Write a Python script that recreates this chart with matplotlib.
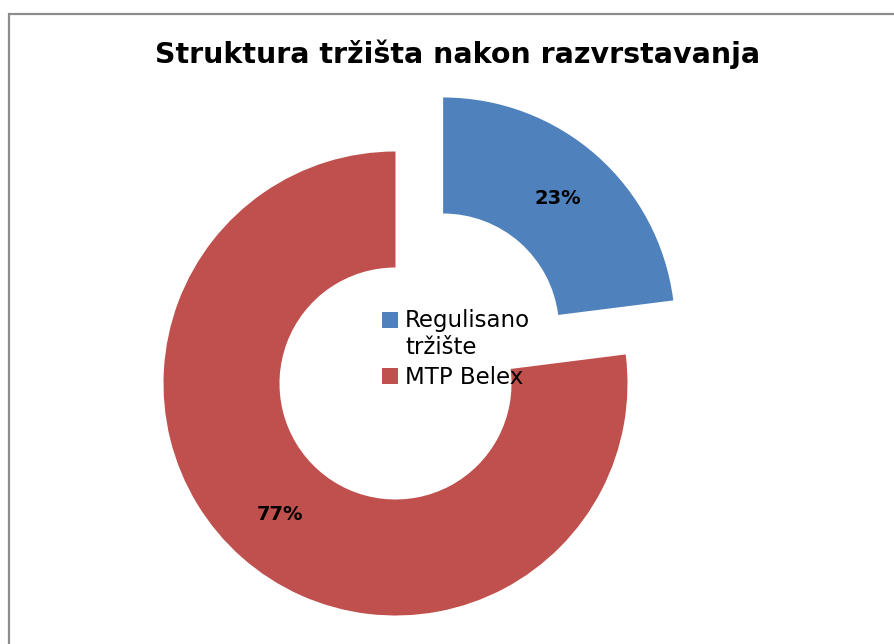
import matplotlib
matplotlib.use('Agg')
import matplotlib.pyplot as plt
from matplotlib.patches import Rectangle

labels = ['Regulisano\ntržište', 'MTP Belex']
shares = [23, 77]
colors = ['#4F81BD', '#C0504D']

W, H = 895, 644
fig = plt.figure(figsize=(W / 100, H / 100), dpi=100)
ax = fig.add_axes([0, 0, 1, 1])
ax.set_xlim(0, W)
ax.set_ylim(0, H)
ax.axis('off')

# chart area frame (runs off the right and bottom edge)
ax.add_patch(Rectangle((9, -10), 900, H - 14 + 10, fill=False,
                       edgecolor='#8c8c8c', linewidth=1.6))

radius = 232
wedges, texts, autotexts = ax.pie(
    shares, colors=colors, startangle=90, counterclock=False,
    center=(395.5, H - 383.5), radius=radius, explode=[72, 0],
    autopct='%d%%', pctdistance=0.75,
    wedgeprops=dict(width=radius * 0.5, linewidth=0),
    textprops=dict(fontsize=14, fontweight='bold', color='black'))
ax.set_xlim(0, W)
ax.set_ylim(0, H)
ax.set_aspect('auto')

fig.text(457.5 / W, 1 - 54 / H, 'Struktura tržišta nakon razvrstavanja',
         ha='center', va='center', fontsize=20.5, fontweight='bold')

fs = 16.5
leg = ax.legend(wedges, labels, loc='upper left',
                bbox_to_anchor=(382 / W, 1 - 309 / H), bbox_transform=fig.transFigure,
                frameon=False, fontsize=fs, handlelength=0.7, handleheight=0.7,
                handletextpad=0.3, labelspacing=0.3, borderpad=0, borderaxespad=0)
for t in leg.get_texts():
    t.set_linespacing(1.25)
# keep the blue key next to the first line of its two-line label
blue = leg.legend_handles[0]
blue.set_y(blue.get_y() + fs * 0.66)

fig.savefig('out.png', dpi=100)
